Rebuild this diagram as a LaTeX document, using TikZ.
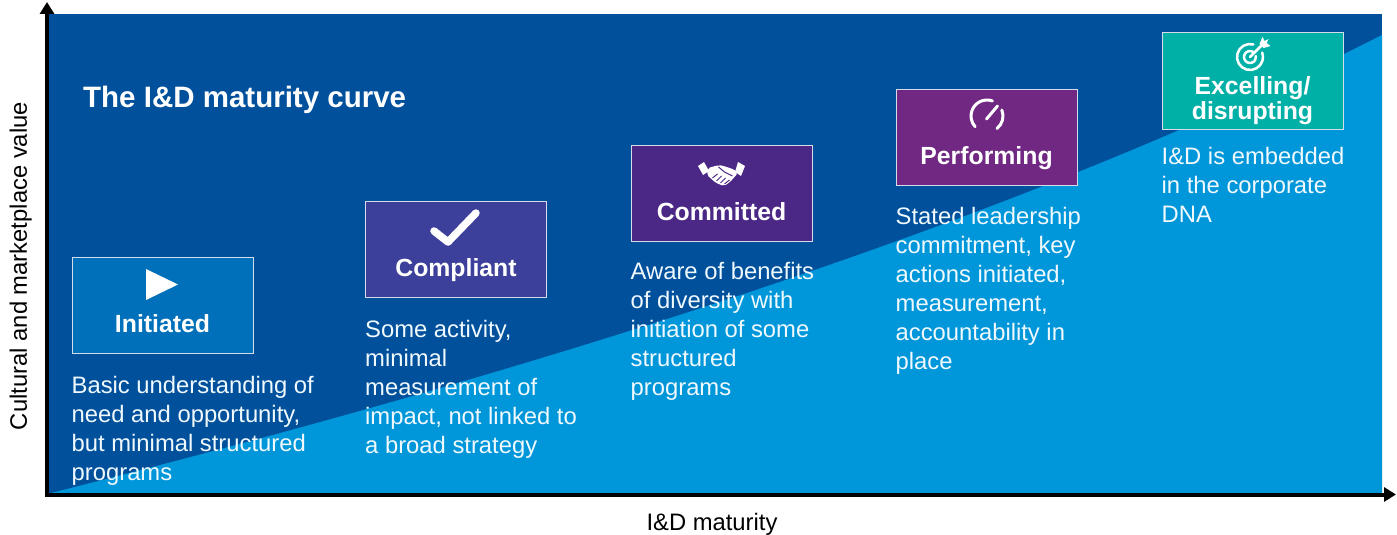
\documentclass[tikz,border=0pt]{standalone}
\usepackage{fontspec}
\setmainfont{Liberation Sans}
\usepackage{tikz}
\usetikzlibrary{calc}
\usetikzlibrary{positioning}
\usetikzlibrary{arrows.meta}

\definecolor{darkbg}{RGB}{0,80,155}
\definecolor{lightbg}{RGB}{0,150,218}
\definecolor{initblue}{RGB}{0,112,186}
\definecolor{compindigo}{RGB}{60,64,155}
\definecolor{commitpurple}{RGB}{75,40,133}
\definecolor{perfpurple}{RGB}{112,40,130}
\definecolor{excelteal}{RGB}{0,176,166}
\definecolor{boxrim}{RGB}{215,220,235}

\tikzset{
	stagebox/.style={draw=boxrim, line width=1pt, minimum width=181pt, minimum height=96pt, inner sep=0pt},
	stagelabel/.style={text=white, font=\fontsize{24.8}{25}\selectfont\bfseries, align=center, inner sep=0pt},
	stagetext/.style={text=white!94!lightbg, font=\fontsize{23.8}{29}\selectfont, align=left, inner sep=0pt},
	axislabel/.style={font=\fontsize{23.8}{24}\selectfont, inner sep=0pt},
	axisline/.style={line width=4pt, {Triangle[length=12pt,width=14pt]}-{Triangle[length=12pt,width=14pt]}},
	iconline/.style={white, line width=3pt, line cap=round, line join=round}
}

\begin{document}
\begin{tikzpicture}[x=1pt,y=-1pt]
		\useasboundingbox (0,0) rectangle (1397,535);
		% background and curve
		\fill[darkbg] (47,14) rectangle (1382,494);
		\fill[lightbg] (47,494) .. controls (500,380) and (1000,230) .. (1382,35) -- (1382,494) -- cycle;

		\node[text=white, font=\fontsize{29.5}{30}\selectfont\bfseries, inner sep=0pt, anchor=base west] (title) at (83,107) {The I\&D maturity curve};

		% stages
		\node[stagebox, fill=initblue] (init) at (162.5,305) {};
		\node[stagebox, fill=compindigo] (comp) at (456,249) {};
		\node[stagebox, fill=commitpurple] (commit) at (721.5,193) {};
		\node[stagebox, fill=perfpurple] (perf) at (986.5,137) {};
		\node[stagebox, fill=excelteal] (excel) at (1252.5,81) {};

		\node[stagelabel, anchor=base] (initlab) at ([yshift=-27pt]init.center) {Initiated};
		\node[stagelabel, anchor=base] (complab) at ([yshift=-27pt]comp.center) {Compliant};
		\node[stagelabel, anchor=base] (commitlab) at ([yshift=-27pt]commit.center) {Committed};
		\node[stagelabel, anchor=base] (perflab) at ([yshift=-27pt]perf.center) {Performing};
		\node[stagelabel, anchor=center] (excellab) at ([yshift=-20pt]excel.center) {Excelling/\\disrupting};

		\node[stagetext, below=23pt of init.south west, anchor=north west] (inittext) {Basic understanding of\\need and opportunity,\\but minimal structured\\programs};
		\node[stagetext, below=23pt of comp.south west, anchor=north west] (comptext) {Some activity,\\minimal\\measurement of\\impact, not linked to\\a broad strategy};
		\node[stagetext, below=21pt of commit.south west, anchor=north west] (committext) {Aware of benefits\\of diversity with\\initiation of some\\structured\\programs};
		\node[stagetext, below=22pt of perf.south west, anchor=north west] (perftext) {Stated leadership\\commitment, key\\actions initiated,\\measurement,\\accountability in\\place};
		\node[stagetext, below=18pt of excel.south west, anchor=north west] (exceltext) {I\&D is embedded\\in the corporate\\DNA};

		% icons
		\begin{scope}[shift={(init.center)}, y=1pt]
			\fill[white] (-16.5,36) -- (-16.5,5) -- (15.5,20.5) -- cycle;
		\end{scope}
		\begin{scope}[shift={(comp.center)}, y=1pt]
			\draw[iconline, line width=7.5pt] (-22,18) -- (-8,7) -- (20,36);
		\end{scope}
		\begin{scope}[shift={(commit.center)}, y=1pt]
			\fill[white] (-23.5,27) -- (-17.5,31) -- (-12.5,22) -- (-18.5,18) -- cycle;
			\fill[white] (16.5,31) -- (23.5,27) -- (19.5,17) -- (13.5,21) -- cycle;
			\fill[white, rounded corners=2pt] (-13.5,25) -- (-2.5,28) -- (5.5,26) -- (13.5,23) -- (16.5,20)
				-- (8.5,11) -- (2.5,7) -- (-5.5,10) -- (-14.5,18) -- cycle;
			\draw[commitpurple, line width=1pt] (-3,26) -- (3,21) -- (11,17);
			\draw[commitpurple, line width=1pt] (-9,15) -- (-4,19);
			\draw[commitpurple, line width=1pt] (-5,12) -- (0,17);
			\draw[commitpurple, line width=1pt] (-1,10) -- (4,15);
			\draw[commitpurple, line width=1pt] (3,9) -- (8,13);
		\end{scope}
		\begin{scope}[shift={(perf.center)}, y=1pt]
			\draw[iconline] (0.5,21) ++(70:16) arc[start angle=70, end angle=222, radius=16];
			\draw[iconline] (0.5,21) ++(22:16) arc[start angle=22, end angle=-52, radius=16];
			\draw[iconline, line width=3pt] (0,18) -- (11,31);
		\end{scope}
		\begin{scope}[shift={(excel.center)}, y=1pt]
			\draw[iconline, line width=2.5pt] (-2.5,24) ++(75:13) arc[start angle=75, end angle=380, radius=13];
			\draw[iconline, line width=2.5pt] (-2.5,24) ++(60:6) arc[start angle=60, end angle=370, radius=6];
			\draw[iconline, line width=2.5pt] (-2.5,24) -- (9,35.5);
			\fill[white] (7,37) -- (10,44) -- (12,40) -- (16,42) -- (14,38) -- (18,35) -- (11,33) -- cycle;
		\end{scope}

		% axes
		\coordinate (origin) at (47,494.5);
		\coordinate (ytip) at (47,2);
		\coordinate (xtip) at (1396,494.5);
		\draw[axisline] (ytip) -- (origin) -- (xtip);
		\node[axislabel, anchor=base] (xlab) at (712,530) {I\&D maturity};
		\node[axislabel, rotate=90, anchor=base] (ylab) at (27,266) {Cultural and marketplace value};
	\end{tikzpicture}
\end{document}
